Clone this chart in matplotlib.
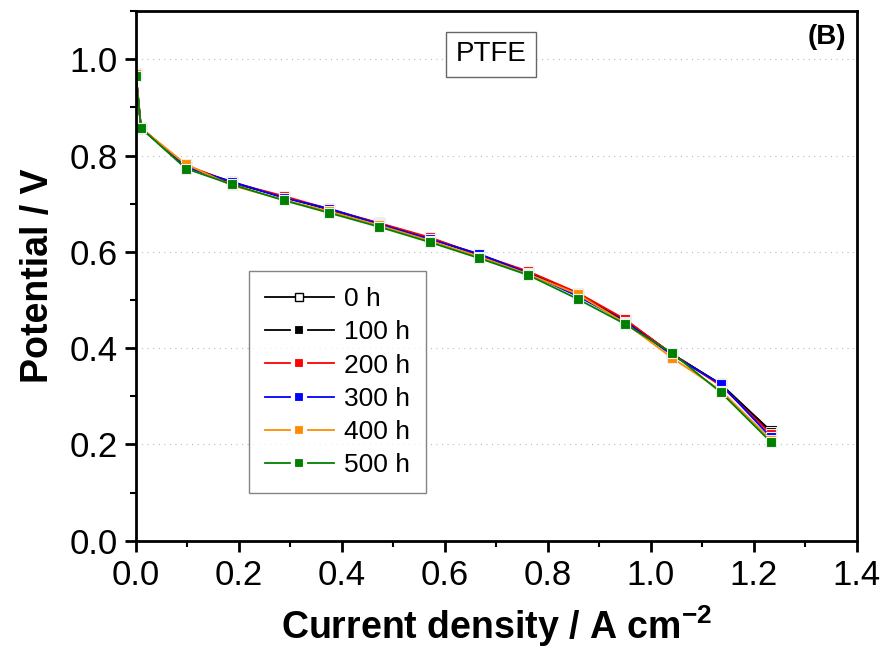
import matplotlib.pyplot as plt
from matplotlib.ticker import MultipleLocator

plt.rcParams['font.family'] = ['Liberation Sans', 'DejaVu Sans']
plt.rcParams['mathtext.fontset'] = 'custom'
plt.rcParams['mathtext.rm'] = 'Liberation Sans'
plt.rcParams['mathtext.bf'] = 'Liberation Sans:bold'

current = [0.0, 0.01, 0.097, 0.186, 0.287, 0.375, 0.472, 0.571, 0.666, 0.761, 0.858, 0.95, 1.041, 1.136, 1.233]

v_0h = [0.97, 0.857, 0.778, 0.744, 0.714, 0.688, 0.659, 0.628, 0.594, 0.558, 0.51, 0.458, 0.388, 0.325, 0.228]
v_100h = [0.97, 0.857, 0.778, 0.744, 0.714, 0.688, 0.659, 0.628, 0.594, 0.558, 0.51, 0.458, 0.388, 0.325, 0.226]
v_200h = [0.97, 0.857, 0.78, 0.744, 0.716, 0.689, 0.66, 0.63, 0.594, 0.56, 0.515, 0.46, 0.388, 0.322, 0.222]
v_300h = [0.97, 0.857, 0.776, 0.746, 0.712, 0.69, 0.658, 0.626, 0.596, 0.556, 0.508, 0.455, 0.386, 0.325, 0.215]
v_400h = [0.97, 0.857, 0.782, 0.738, 0.708, 0.684, 0.655, 0.623, 0.59, 0.554, 0.512, 0.452, 0.38, 0.312, 0.21]
v_500h = [0.965, 0.857, 0.773, 0.74, 0.707, 0.681, 0.652, 0.62, 0.587, 0.552, 0.502, 0.45, 0.39, 0.308, 0.205]

series = [
    ("0 h", v_0h, "black", "white"),
    ("100 h", v_100h, "black", "black"),
    ("200 h", v_200h, "red", "red"),
    ("300 h", v_300h, "blue", "blue"),
    ("400 h", v_400h, "darkorange", "darkorange"),
    ("500 h", v_500h, "green", "green"),
]

fig = plt.figure(figsize=(8.88, 6.5), dpi=100)
ax = fig.add_axes([0.153, 0.168, 0.812, 0.815])

for label, v, col, face in series:
    ax.plot(current, v, color=col, linewidth=1.3, marker='s', markersize=7,
            markerfacecolor=face, markeredgecolor=col if face == "white" else "#eeeeee",
            markeredgewidth=0.8, label=label)

ax.set_xlim(0, 1.4)
ax.set_ylim(0, 1.1)
ax.xaxis.set_minor_locator(MultipleLocator(0.1))
ax.yaxis.set_minor_locator(MultipleLocator(0.1))
ax.set_xticks([0.0, 0.2, 0.4, 0.6, 0.8, 1.0, 1.2, 1.4])
ax.set_yticks([0.0, 0.2, 0.4, 0.6, 0.8, 1.0])
ax.tick_params(which='major', direction='out', length=8, width=2, labelsize=25, pad=5)
ax.tick_params(which='minor', direction='out', length=4, width=1.5)
for s in ax.spines.values():
    s.set_linewidth(2)

ax.yaxis.grid(True, linestyle=(0, (1, 4)), color='#bbbbbb', linewidth=0.8)
ax.set_axisbelow(True)

ax.set_xlabel('Current density / A cm$^{\\mathbf{-2}}$', fontsize=27, fontweight='bold', labelpad=8)
ax.set_ylabel('Potential / V', fontsize=27, fontweight='bold', labelpad=10)

ax.text(0.69, 1.01, 'PTFE', fontsize=20, ha='center', va='center',
        bbox=dict(boxstyle='square,pad=0.35', facecolor='white', edgecolor='#666666', linewidth=1))
ax.text(0.985, 0.975, '(B)', transform=ax.transAxes, fontsize=20, fontweight='bold',
        ha='right', va='top')

leg = ax.legend(loc='lower left', bbox_to_anchor=(0.157, 0.09), borderaxespad=0,
                fontsize=19, numpoints=1, handlelength=2.6, handletextpad=0.4,
                frameon=True, fancybox=False, edgecolor='#666666',
                borderpad=0.6, labelspacing=0.35)
leg.get_frame().set_linewidth(1)
for h, (label, v, col, face) in zip(leg.legend_handles, series):
    if face != "white":
        h.set_markeredgecolor('white')
        h.set_markeredgewidth(3)
        h.set_markersize(8)
    else:
        h.set_markersize(6)
        h.set_markeredgewidth(1)

fig.savefig('out.png', dpi=100)
